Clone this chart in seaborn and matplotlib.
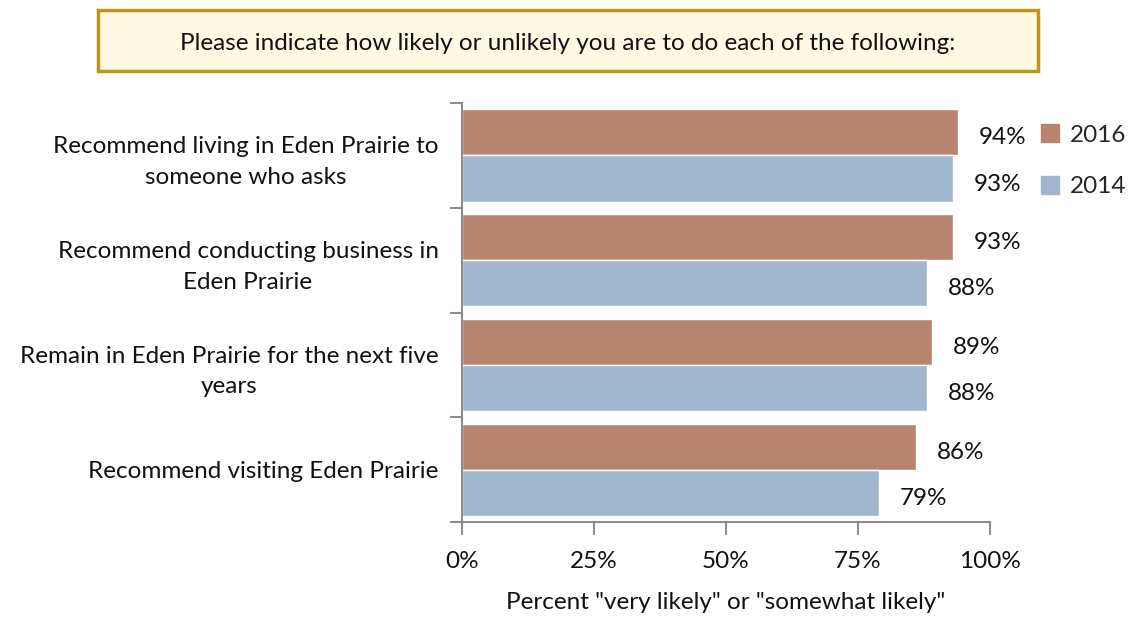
import matplotlib
matplotlib.use("Agg")
import matplotlib.pyplot as plt
from matplotlib.patches import Rectangle, FancyBboxPatch
from matplotlib.ticker import FixedLocator, NullFormatter
import seaborn as sns
import pandas as pd

# Survey items and results
categories = [
    "Recommend living in Eden Prairie to\nsomeone who asks",
    "Recommend conducting business in\nEden Prairie",
    "Remain in Eden Prairie for the next five\nyears",
    "Recommend visiting Eden Prairie",
]
years = ["2016", "2014"]
values_2016 = [94, 93, 89, 86]
values_2014 = [93, 88, 88, 79]
x_ticks = [0, 25, 50, 75, 100]
x_tick_labels = ["0%", "25%", "50%", "75%", "100%"]

title_text = "Please indicate how likely or unlikely you are to do each of the following:"
x_label = 'Percent "very likely" or "somewhat likely"'

colors = {"2016": "#B7846F", "2014": "#A1B7CF"}
axis_gray = "#8C8C8C"
text_color = "#111111"
fs = 17.5

sns.set_style("white")
plt.rcParams["font.family"] = ["Lato", "DejaVu Sans"]

df = pd.DataFrame({
    "item": categories * 2,
    "year": ["2016"] * len(categories) + ["2014"] * len(categories),
    "value": values_2016 + values_2014,
})

fig = plt.figure(figsize=(11.3, 6.21), dpi=100)
ax = fig.add_axes([0.409, 0.159, 0.467, 0.675])

sns.barplot(data=df, y="item", x="value", hue="year", hue_order=years,
            palette=colors, orient="h", width=0.88, saturation=1,
            ax=ax, legend=False)

# Value labels to the right of each bar, sitting slightly low
for container in ax.containers:
    texts = ax.bar_label(container, labels=[f"{v:.0f}%" for v in container.datavalues],
                         padding=15, fontsize=fs, color=text_color)
    for t in texts:
        t.xyann = (t.xyann[0], -4)

ax.set_xlim(0, 100)
ax.set_ylim(len(categories) - 0.5, -0.5)
ax.set_xticks(x_ticks)
ax.set_xticklabels(x_tick_labels, fontsize=fs, color=text_color)
ax.set_ylabel("")
ax.set_xlabel(x_label, fontsize=fs, labelpad=14, color=text_color)

# Category labels centred, tick marks on category boundaries
ax.tick_params(axis="y", which="major", left=False, length=0, labelsize=fs,
               labelcolor=text_color, pad=17)
ax.yaxis.set_minor_locator(FixedLocator([i - 0.5 for i in range(len(categories) + 1)]))
ax.yaxis.set_minor_formatter(NullFormatter())
ax.tick_params(axis="y", which="minor", left=True, length=9, width=1.5,
               color=axis_gray, direction="out")
ax.tick_params(axis="x", which="major", bottom=True, length=9, width=1.5,
               color=axis_gray, direction="out", pad=12)
for lbl in ax.get_yticklabels():
    lbl.set_horizontalalignment("right")
    lbl.set_multialignment("center")
    lbl.set_linespacing(1.55)

for side in ("top", "right"):
    ax.spines[side].set_visible(False)
for side in ("left", "bottom"):
    ax.spines[side].set_color(axis_gray)
    ax.spines[side].set_linewidth(1.5)

# Legend
handles = [Rectangle((0, 0), 1, 1, color=colors[y]) for y in years]
fig.legend(handles, years, loc="upper left", bbox_to_anchor=(0.921, 0.80),
           frameon=False, fontsize=fs, handlelength=0.75, handleheight=0.75,
           handletextpad=0.45, labelspacing=1.25, borderpad=0, borderaxespad=0)

# Boxed title
box = FancyBboxPatch((98 / 1130, 1 - 71 / 621), 940 / 1130, 61 / 621,
                     boxstyle="square,pad=0", transform=fig.transFigure,
                     facecolor="#FFF8E3", edgecolor="#C09418", linewidth=2.5)
fig.patches.append(box)
fig.text(568 / 1130, 1 - 43 / 621, title_text, ha="center", va="center",
         fontsize=fs, color=text_color)

fig.savefig("out.png", dpi=100)
